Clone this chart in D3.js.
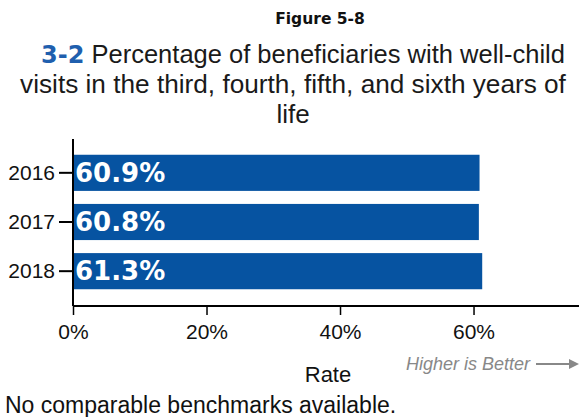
<!DOCTYPE html>
<html><head><meta charset="utf-8">
<script src="https://cdn.jsdelivr.net/npm/d3@7"></script>
<style>body{margin:0;background:#fff}svg{display:block}</style>
</head><body>
<svg id="c" width="579" height="417"></svg>
<script>
const years = ["2016","2017","2018"];
const rates = [60.9, 60.8, 61.3];
const tickValues = [0, 20, 40, 60];
const titleLines = ["Percentage of beneficiaries with well-child","visits in the third, fourth, fifth, and sixth years of","life"];

const svg = d3.select("#c");
const x = d3.scaleLinear().domain([0, 75.8]).range([73, 579]);
const y = d3.scaleBand().domain(years).range([140, 304]).paddingInner(0.265).paddingOuter(0.3);
const axisY = 306;

svg.append("text").attr("x", 320).attr("y", 24).attr("text-anchor","middle")
  .attr("font-family","DejaVu Sans").attr("font-weight","bold").attr("font-size",15.5).attr("fill","#111").text("Figure 5-8");

const tf = "Liberation Sans, Arial";
const t1 = svg.append("text").attr("x", 303).attr("y", 63).attr("text-anchor","middle")
  .attr("font-family",tf).attr("font-size",25.5).attr("fill","#1a1a1a");
t1.append("tspan").attr("font-family","DejaVu Sans").attr("font-weight","bold").attr("fill","#1f5fae").attr("font-size",24).text("3-2");
t1.append("tspan").text(" " + titleLines[0]);
svg.append("text").attr("x", 293).attr("y", 93).attr("text-anchor","middle")
  .attr("font-family",tf).attr("font-size",26.2).attr("fill","#1a1a1a").text(titleLines[1]);
svg.append("text").attr("x", 293).attr("y", 123).attr("text-anchor","middle")
  .attr("font-family",tf).attr("font-size",26).attr("fill","#1a1a1a").text(titleLines[2]);

// bars
svg.selectAll("rect.bar").data(years).join("rect").attr("class","bar")
  .attr("x", x(0)).attr("y", d => y(d)).attr("width", (d,i) => x(rates[i]) - x(0))
  .attr("height", y.bandwidth()).attr("fill","#0653a1");
svg.selectAll("text.lbl").data(years).join("text").attr("class","lbl")
  .attr("x", x(0) + 2).attr("y", d => y(d) + y.bandwidth()/2 + 9)
  .attr("font-family","DejaVu Sans").attr("font-weight","bold").attr("font-size",26).attr("fill","#fff")
  .text((d,i) => rates[i].toFixed(1) + "%");

// y axis
const ya = svg.append("g").attr("transform",`translate(${x(0)},0)`)
  .call(d3.axisLeft(y).tickSize(14).tickPadding(4));
ya.select(".domain").remove();
ya.append("line").attr("x1",0).attr("x2",0).attr("y1",139).attr("y2",axisY).attr("stroke","#000").attr("stroke-width",2);
ya.selectAll(".tick line").attr("stroke","#000").attr("stroke-width",2);
ya.selectAll(".tick text").attr("font-family",tf).attr("font-size",21).attr("fill","#111");

// x axis
const xa = svg.append("g").attr("transform",`translate(0,${axisY})`)
  .call(d3.axisBottom(x).tickValues(tickValues).tickFormat(d => d + "%").tickSize(9).tickPadding(9));
xa.select(".domain").remove();
xa.append("line").attr("x1",x(0)).attr("x2",579).attr("y1",0).attr("y2",0).attr("stroke","#000").attr("stroke-width",2);
xa.selectAll(".tick line").attr("stroke","#000").attr("stroke-width",1.5);
xa.selectAll(".tick text").attr("font-family",tf).attr("font-size",21).attr("fill","#111");

svg.append("text").attr("x", 328).attr("y", 382).attr("text-anchor","middle")
  .attr("font-family",tf).attr("font-size",22).attr("fill","#111").text("Rate");
svg.append("text").attr("x", 530).attr("y", 370).attr("text-anchor","end")
  .attr("font-family",tf).attr("font-style","italic").attr("font-size",18).attr("fill","#888").text("Higher is Better");
svg.append("line").attr("x1",536).attr("x2",571).attr("y1",364).attr("y2",364).attr("stroke","#888").attr("stroke-width",2);
svg.append("path").attr("d","M569,359 L579,364 L569,369 Z").attr("fill","#888");

svg.append("text").attr("x", 5).attr("y", 413)
  .attr("font-family",tf).attr("font-size",23).attr("fill","#111").text("No comparable benchmarks available.");
</script>
</body></html>
